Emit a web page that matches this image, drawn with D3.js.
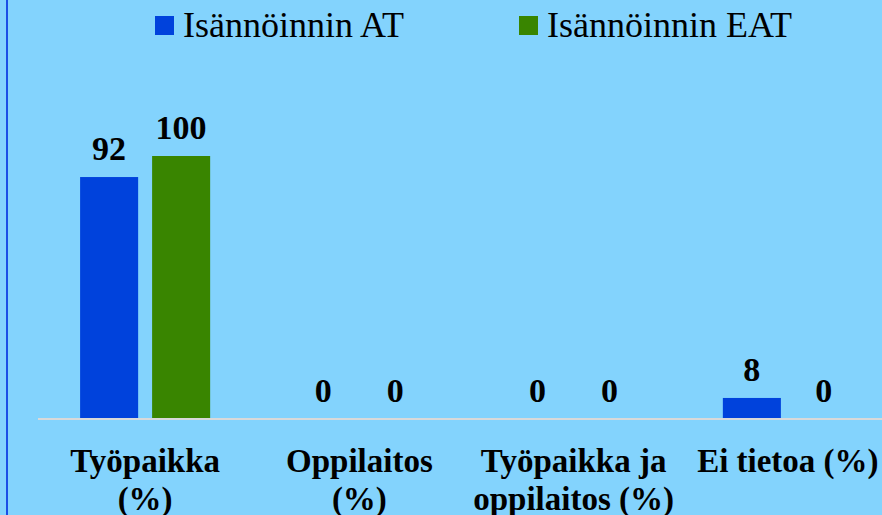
<!DOCTYPE html>
<html>
<head>
<meta charset="utf-8">
<script src="https://cdn.jsdelivr.net/npm/d3@7"></script>
<style>
  body { margin: 0; background: #83d3fd; }
  svg { display: block; }
</style>
</head>
<body>
<div id="chart"></div>
<script>
// data
const categories = ["Työpaikka\n(%)", "Oppilaitos\n(%)", "Työpaikka ja\noppilaitos (%)", "Ei tietoa (%)"];
const seriesNames = ["Isännöinnin AT", "Isännöinnin EAT"];
const atValues = [92, 0, 0, 8];
const eatValues = [100, 0, 0, 0];
const seriesColours = ["#0042dc", "#398500"];

const width = 882;
const height = 515;
const font = "'Liberation Serif', 'DejaVu Serif', serif";

const svg = d3.select('#chart')
    .append('svg')
    .attr('width', width)
    .attr('height', height);

// background + left border
svg.append('rect')
    .attr('width', width)
    .attr('height', height)
    .attr('fill', '#83d3fd');
svg.append('line')
    .attr('x1', 7).attr('x2', 7)
    .attr('y1', 0).attr('y2', height)
    .attr('stroke', '#1a4fe6')
    .attr('stroke-width', 2);

// scales
const x0 = d3.scaleBand()
    .domain(categories)
    .range([38, 895])
    .paddingInner(0.393)
    .paddingOuter(0.1965);

const x1 = d3.scaleBand()
    .domain(seriesNames)
    .range([0, x0.bandwidth()])
    .paddingInner(0.194);

const y = d3.scaleLinear()
    .domain([0, 100])
    .range([419, 156]);

const colour = d3.scaleOrdinal()
    .domain(seriesNames)
    .range(seriesColours);

// rows for each category
const rows = categories.map((c, i) => ({
    cat: c,
    values: [
        { name: seriesNames[0], value: atValues[i] },
        { name: seriesNames[1], value: eatValues[i] }
    ]
}));

// baseline
svg.append('line')
    .attr('x1', 38).attr('x2', width)
    .attr('y1', y(0)).attr('y2', y(0))
    .attr('stroke', '#d9d9d9')
    .attr('stroke-width', 2);

const groups = svg.selectAll('.group')
    .data(rows)
    .enter()
    .append('g')
    .attr('class', 'group')
    .attr('transform', d => `translate(${x0(d.cat)},0)`);

groups.selectAll('rect')
    .data(d => d.values)
    .enter()
    .append('rect')
    .attr('x', d => x1(d.name))
    .attr('y', d => y(d.value))
    .attr('width', x1.bandwidth())
    .attr('height', d => y(0) - y(d.value) - 1)
    .attr('fill', d => colour(d.name));

// value labels
groups.selectAll('text.value')
    .data(d => d.values)
    .enter()
    .append('text')
    .attr('class', 'value')
    .attr('x', d => x1(d.name) + x1.bandwidth() / 2)
    .attr('y', d => y(d.value) - 17)
    .attr('text-anchor', 'middle')
    .style('font-family', font)
    .style('font-weight', 'bold')
    .style('font-size', '34px')
    .attr('fill', '#000')
    .text(d => d.value);

// category labels
const catLabels = svg.selectAll('.cat')
    .data(categories)
    .enter()
    .append('text')
    .attr('class', 'cat')
    .attr('x', d => x0(d) + x0.bandwidth() / 2)
    .attr('y', 472)
    .attr('text-anchor', 'middle')
    .style('font-family', font)
    .style('font-weight', 'bold')
    .style('font-size', '33px')
    .attr('fill', '#000');

catLabels.selectAll('tspan')
    .data(d => d.split('\n'))
    .enter()
    .append('tspan')
    .attr('x', function() { return d3.select(this.parentNode).attr('x'); })
    .attr('dy', (d, i) => i === 0 ? 0 : 38)
    .text(d => d);

// legend
const legendX = [155, 519];
const legend = svg.selectAll('.legend')
    .data(seriesNames)
    .enter()
    .append('g')
    .attr('class', 'legend')
    .attr('transform', (d, i) => `translate(${legendX[i]},16)`);

legend.append('rect')
    .attr('width', 19)
    .attr('height', 19)
    .attr('fill', d => colour(d));

legend.append('text')
    .attr('x', 28)
    .attr('y', 21)
    .style('font-family', font)
    .style('font-size', '36px')
    .attr('fill', '#000')
    .text(d => d);
</script>
</body>
</html>
